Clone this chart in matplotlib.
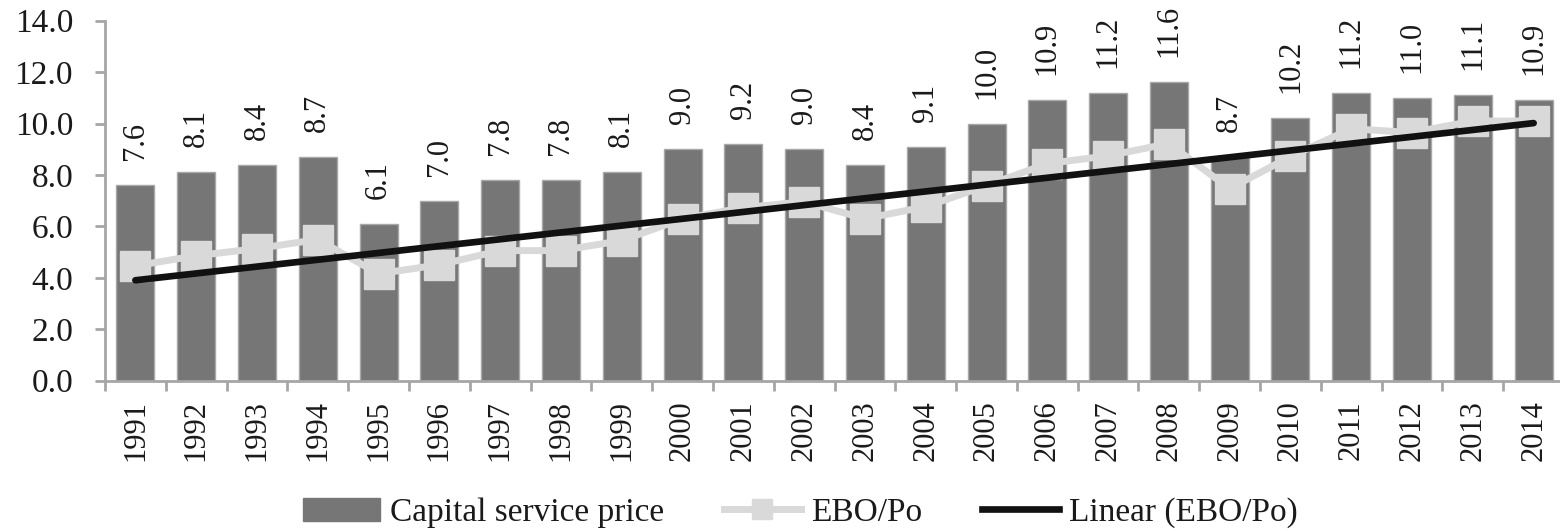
import matplotlib

matplotlib.use("Agg")
import matplotlib.pyplot as plt
import numpy as np
from matplotlib.lines import Line2D
from matplotlib.patches import Patch

plt.rcParams["font.family"] = ["Liberation Serif", "DejaVu Serif"]

years = [str(y) for y in range(1991, 2015)]
capital_service_price = [
    7.6, 8.1, 8.4, 8.7, 6.1, 7.0, 7.8, 7.8, 8.1, 9.0, 9.2, 9.0,
    8.4, 9.1, 10.0, 10.9, 11.2, 11.6, 8.7, 10.2, 11.2, 11.0, 11.1, 10.9,
]
ebo_po = [
    4.47, 4.86, 5.14, 5.49, 4.16, 4.51, 5.06, 5.06, 5.45, 6.30, 6.73, 6.96,
    6.30, 6.77, 7.59, 8.44, 8.75, 9.22, 7.47, 8.72, 9.80, 9.65, 10.10, 10.10,
]

BAR_COLOR = "#767676"
EBO_COLOR = "#d9d9d9"
SPINE_COLOR = "#a6a6a6"
TEXT_COLOR = "#1a1a1a"
FS_ROT = 22
FS_HOR = 24

x = np.arange(len(years))
slope, intercept = np.polyfit(x, ebo_po, 1)
trend = slope * x + intercept

fig = plt.figure(figsize=(15.6, 5.31), dpi=100)
ax = fig.add_axes([0.0673, 0.283, 0.9353, 0.678])

bars = ax.bar(x, capital_service_price, width=0.625, color=BAR_COLOR,
              edgecolor="#a8a8a8", linewidth=1, zorder=2)
for rect, val in zip(bars, capital_service_price):
    ax.annotate(f"{val:.1f}", (rect.get_x() + rect.get_width() / 2, val),
                xytext=(0, 18), textcoords="offset points", rotation=90,
                ha="center", va="bottom", fontsize=FS_ROT, color=TEXT_COLOR)

ax.plot(x, ebo_po, color=EBO_COLOR, linewidth=5, marker="s",
        markersize=21, markeredgecolor=EBO_COLOR, zorder=3,
        solid_joinstyle="round")
ax.plot(x, trend, color="#111111", linewidth=4.8, solid_capstyle="round",
        zorder=4)

ax.set_xlim(-0.5, len(years) - 0.5)
ax.set_ylim(0, 14)
ax.set_yticks(np.arange(0, 14.1, 2))
ax.set_yticklabels([f"{v:.1f}" for v in np.arange(0, 14.1, 2)])
ax.set_xticks(x)
ax.set_xticklabels(years, rotation=90)
ax.set_xticks(np.arange(-0.5, len(years), 1), minor=True)

for side in ("top", "right"):
    ax.spines[side].set_visible(False)
for side in ("left", "bottom"):
    ax.spines[side].set_color(SPINE_COLOR)
    ax.spines[side].set_linewidth(2)

ax.tick_params(axis="y", colors=SPINE_COLOR, labelcolor=TEXT_COLOR,
               labelsize=FS_HOR, length=7, width=2, pad=16)
ax.tick_params(axis="x", which="major", length=0, labelsize=FS_ROT,
               labelcolor=TEXT_COLOR, pad=14)
ax.tick_params(axis="x", which="minor", length=7, width=2, colors=SPINE_COLOR)

handles = [
    Patch(facecolor=BAR_COLOR, edgecolor=BAR_COLOR),
    Line2D([], [], color=EBO_COLOR, linewidth=5, marker="s", markersize=15),
    Line2D([], [], color="#111111", linewidth=4.8),
]
labels = ["Capital service price", "EBO/Po", "Linear (EBO/Po)"]
fig.legend(handles, labels, loc="center", bbox_to_anchor=(0.513, 0.034),
           ncol=3, frameon=False, fontsize=FS_HOR, handlelength=2.3,
           handletextpad=0.3, columnspacing=1.8, labelcolor=TEXT_COLOR)

fig.savefig("out.png", dpi=100)
